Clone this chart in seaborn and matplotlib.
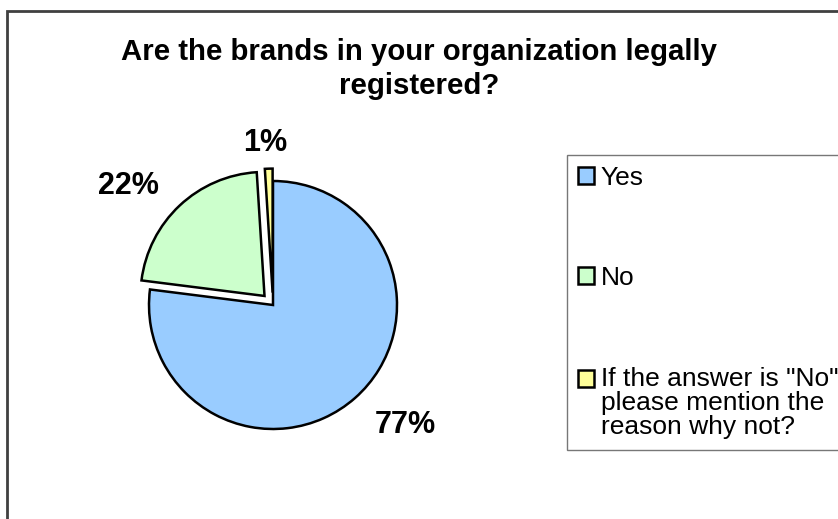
import matplotlib
matplotlib.use("Agg")
import matplotlib.pyplot as plt
from matplotlib.patches import Rectangle
from matplotlib.legend_handler import HandlerPatch
import seaborn as sns

# Survey answers and their shares (percent)
answers = ["Yes", "No", 'If the answer is "No"\nplease mention the\nreason why not?']
shares = [77, 22, 1]
slice_colors = ["#99CCFF", "#CCFFCC", "#FFFF99"]
title = "Are the brands in your organization legally\nregistered?"

sns.set_style("white")
plt.rcParams["font.family"] = ["Liberation Sans", "DejaVu Sans"]
plt.rcParams["text.color"] = "black"


class FirstLineHandler(HandlerPatch):
    """Legend key lifted up so it sits beside the first line of a wrapped label."""

    def __init__(self, lift, **kw):
        super().__init__(**kw)
        self.lift = lift

    def create_artists(self, legend, orig_handle, xdescent, ydescent,
                       width, height, fontsize, trans):
        return super().create_artists(legend, orig_handle, xdescent,
                                      ydescent - self.lift, width, height,
                                      fontsize, trans)


W, H = 838, 519
fig = plt.figure(figsize=(W / 100, H / 100), dpi=100)

# pie centre at (273, 305) px, radius 124 px
cx, cy, r, half = 273, 305, 124, 150
ax = fig.add_axes([(cx - half) / W, (H - cy - half) / H, 2 * half / W, 2 * half / H])

wedges, texts, autotexts = ax.pie(
    shares,
    colors=slice_colors,
    startangle=90,
    counterclock=False,
    explode=[0, 0.1, 0.1],
    autopct=lambda p: f"{p:.0f}%",
    wedgeprops=dict(edgecolor="black", linewidth=1.8),
    textprops=dict(fontsize=22, fontweight="bold", color="black"),
)
lim = half / r
ax.set_xlim(-lim, lim)
ax.set_ylim(-lim, lim)

# value labels sit outside the slices
label_pos = [(1.065, -0.968), (-1.169, 0.960), (-0.065, 1.306)]
for t, (x, y) in zip(autotexts, label_pos):
    t.set_position((x, y))
    t.set_ha("center")
    t.set_va("center")

fig.text(0.5, 1 - 69 / H, title, ha="center", va="center", fontsize=21.2,
         fontweight="bold", linespacing=1.3)

leg = fig.legend(
    wedges, answers,
    loc="upper left",
    bbox_to_anchor=(567 / W, 1 - 155 / H),
    frameon=True, fancybox=False, fontsize=19,
    handlelength=0.62, handleheight=0.62, handletextpad=0.25,
    labelspacing=2.9, borderpad=0.4, borderaxespad=0,
    handler_map={wedges[2]: FirstLineHandler(lift=18)},
)
leg.get_frame().set_edgecolor("#555555")
leg.get_frame().set_linewidth(1.0)
for txt in leg.get_texts():
    txt.set_linespacing(1.02)
for h in leg.legend_handles:
    h.set_linewidth(1.8)

# chart area border
fig.add_artist(Rectangle((6.5 / W, -0.1), 1.2, 1 - 10.5 / H + 0.1,
                         transform=fig.transFigure, fill=False,
                         edgecolor="#404040", linewidth=2))

fig.savefig("out.png", dpi=100)
